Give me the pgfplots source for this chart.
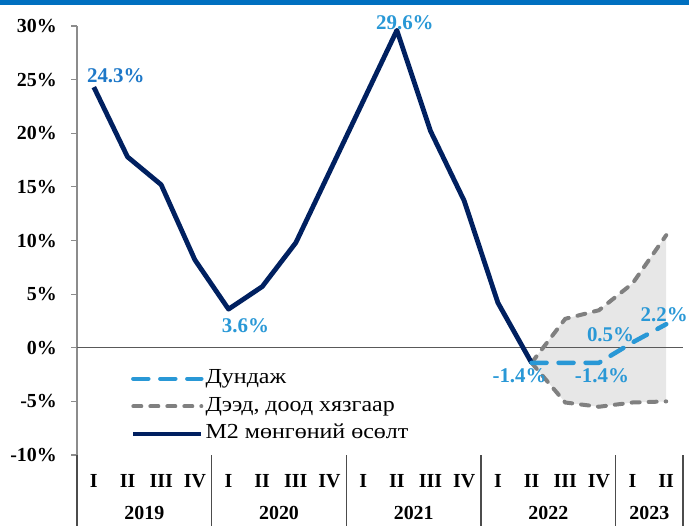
\documentclass[border=0pt]{standalone}
\usepackage{pgfplots}
\pgfplotsset{compat=1.18}
\usepackage{pgfplotstable}
\usepgfplotslibrary{fillbetween}
\usepackage{fontspec}
\setmainfont{Liberation Serif}
\newfontfamily\legfont{Liberation Serif}[FakeStretch=1.12]

\definecolor{navy}{RGB}{0,32,96}
\definecolor{meanblue}{RGB}{41,152,214}
\definecolor{labblue}{RGB}{30,120,200}
\definecolor{bandgray}{RGB}{128,128,128}
\definecolor{bandfill}{RGB}{231,231,231}
\definecolor{topbar}{RGB}{0,112,192}

\tikzset{
  vallab/.style={font=\fontsize{21}{25}\selectfont\bfseries, inner sep=0pt, text=meanblue},
  yearlab/.style={font=\fontsize{20}{24}\selectfont\bfseries, inner sep=0pt},
  yearsep/.style={black!70, line width=1.2bp},
}

% M2 growth, quarters 2019 I .. 2022 II
\pgfplotstableread{
q val
0 24.3
1 17.8
2 15.2
3 8.2
4 3.6
5 5.7
6 9.8
7 16.4
8 23.0
9 29.6
10 20.2
11 13.7
12 4.2
13 -1.4
}\mtwo

% forecast: mean and band, 2022 II .. 2023 II
\pgfplotstableread{
q mean upper lower
13 -1.4 -1.4 -1.4
14 -1.4 2.7 -5.1
15 -1.4 3.5 -5.5
16 0.5 6.0 -5.1
17 2.2 10.5 -5.0
}\fcst

\begin{document}
\begin{tikzpicture}
\begin{axis}[
  scale only axis, width=606bp, height=429bp,
  xmin=-0.5, xmax=17.5, ymin=-10, ymax=30,
  clip=false,
  separate axis lines,
  axis y line*=left, axis x line*=bottom,
  x axis line style={draw=none},
  y axis line style={draw=black!45, line width=1.2bp},
  xtick={0,...,17},
  xticklabels={I,II,III,IV,I,II,III,IV,I,II,III,IV,I,II,III,IV,I,II},
  major x tick style={draw=none},
  ytick={-10,-5,...,30},
  yticklabels={-10\%,-5\%,0\%,5\%,10\%,15\%,20\%,25\%,30\%},
  ytick pos=left, tick align=outside, major tick length=6bp,
  y tick style={draw=black!45, line width=1.2bp},
  ticklabel style={font=\fontsize{20}{24}\selectfont\bfseries, inner sep=0pt},
  xticklabel style={anchor=base, yshift=-26bp},
  yticklabel style={anchor=east, xshift=-14bp},
  legend style={at={(axis cs:1.1,-1.85)}, anchor=north west, draw=none, fill=none,
    inner sep=0pt, font=\legfont\fontsize{21.5}{25}\selectfont,
    nodes={inner sep=2bp, text height=14bp, text depth=4bp}, row sep=5.5bp},
  legend cell align=left,
  legend image code/.code={\draw[#1] (0bp,0bp) -- (68bp,0bp);},
]
\addlegendimage{meanblue, line width=4.5bp, line cap=round, dash pattern=on 15bp off 12bp}
\addlegendentry{Дундаж}
\addlegendimage{bandgray, line width=4bp, line cap=round, dash pattern=on 8bp off 9bp}
\addlegendentry{Дээд, доод хязгаар}
\addlegendimage{navy, line width=4.5bp}
\addlegendentry{M2 мөнгөний өсөлт}

\fill[topbar] (axis cs:-2.787,31.958) rectangle (axis cs:17.676,32.424);
\coordinate (bl) at (axis cs:-2.787,-16.527);
\coordinate (tr) at (axis cs:17.676,32.424);

\addplot[name path=up, draw=none, forget plot] table[x=q, y=upper] {\fcst};
\addplot[name path=lo, draw=none, forget plot] table[x=q, y=lower] {\fcst};
\addplot[bandfill, forget plot] fill between[of=up and lo];

\draw[black!65, line width=1.2bp] (axis cs:-0.5,0) -- (axis cs:17.5,0);
\draw[yearsep] (axis cs:-0.5,-10) -- (axis cs:-0.5,-16.7);
\draw[yearsep] (axis cs:3.5,-10) -- (axis cs:3.5,-16.7);
\draw[yearsep] (axis cs:7.5,-10) -- (axis cs:7.5,-16.7);
\draw[yearsep] (axis cs:11.5,-10) -- (axis cs:11.5,-16.7);
\draw[yearsep] (axis cs:15.5,-10) -- (axis cs:15.5,-16.7);
\draw[yearsep] (axis cs:17.5,-10) -- (axis cs:17.5,-16.7);

\addplot[bandgray, line width=4bp, line cap=round, dash pattern=on 8bp off 9bp, forget plot]
  table[x=q, y=upper] {\fcst};
\addplot[bandgray, line width=4bp, line cap=round, dash pattern=on 8bp off 9bp, forget plot]
  table[x=q, y=lower] {\fcst};
\addplot[navy, line width=4.8bp, line join=round, forget plot] table[x=q, y=val] {\mtwo};
\addplot[meanblue, line width=4.5bp, line cap=round, line join=round,
  dash pattern=on 15bp off 12bp, forget plot] table[x=q, y=mean] {\fcst};

\node[vallab, text=labblue, anchor=south west, xshift=-7bp, yshift=4bp] at (axis cs:0,24.3) {24.3\%};
\node[vallab, anchor=south, xshift=8bp] at (axis cs:9,29.6) {29.6\%};
\node[vallab, anchor=north, xshift=17bp, yshift=-9bp] at (axis cs:4,3.6) {3.6\%};
\node[vallab, anchor=north, xshift=-12bp, yshift=-6bp] at (axis cs:13,-1.4) {-1.4\%};
\node[vallab, anchor=north, xshift=3bp, yshift=-6bp] at (axis cs:15,-1.4) {-1.4\%};
\node[vallab, anchor=south, xshift=-22bp] at (axis cs:16,0.5) {0.5\%};
\node[vallab, anchor=south, xshift=-2bp, yshift=2bp] at (axis cs:17,2.2) {2.2\%};

\node[yearlab] at (axis cs:1.5,-15.41) {2019};
\node[yearlab] at (axis cs:5.5,-15.41) {2020};
\node[yearlab] at (axis cs:9.5,-15.41) {2021};
\node[yearlab] at (axis cs:13.5,-15.41) {2022};
\node[yearlab] at (axis cs:16.5,-15.41) {2023};
\end{axis}
\pgfresetboundingbox
\useasboundingbox (bl) rectangle (tr);
\end{tikzpicture}
\end{document}
